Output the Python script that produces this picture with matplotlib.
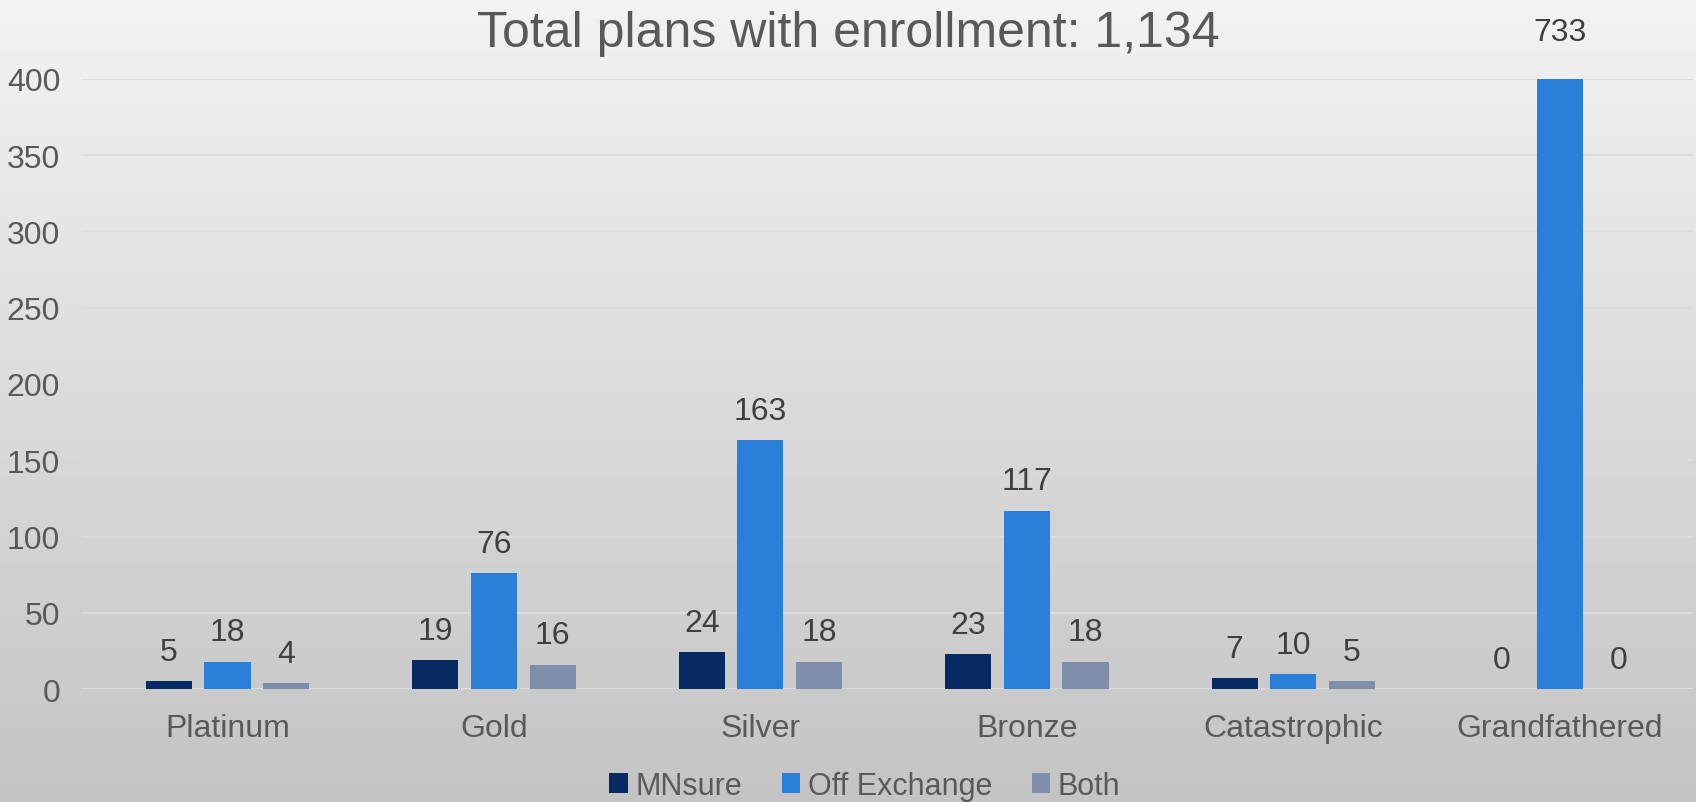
import numpy as np
import matplotlib.pyplot as plt

categories = ['Platinum', 'Gold', 'Silver', 'Bronze', 'Catastrophic', 'Grandfathered']
mnsure = [5, 19, 24, 23, 7, 0]
off_exchange = [18, 76, 163, 117, 10, 733]
both = [4, 16, 18, 18, 5, 0]
series_names = ['MNsure', 'Off Exchange', 'Both']
colors = ['#062a61', '#2a7fd8', '#7f8fab']
title = 'Total plans with enrollment: 1,134'

plt.rcParams['font.family'] = ['Liberation Sans', 'DejaVu Sans']

fig = plt.figure(figsize=(16.96, 8.03), dpi=100)

# grey vertical gradient behind everything
bg = fig.add_axes([0, 0, 1, 1], zorder=0)
grad = np.linspace(0, 1, 256).reshape(-1, 1)
bg.imshow(grad, aspect='auto', cmap=plt.matplotlib.colors.LinearSegmentedColormap.from_list(
    'bg', ['#f3f3f3', '#c4c4c4']), extent=[0, 1, 0, 1])
bg.axis('off')

ax = fig.add_axes([81 / 1696, 0.1407, 1612 / 1696, 0.7597], zorder=1)
ax.patch.set_alpha(0)

ymax = 400
x = np.arange(len(categories))
width = 0.173
step = 0.22
for i, (vals, name, c) in enumerate(zip([mnsure, off_exchange, both], series_names, colors)):
    pos = x + (i - 1) * step
    ax.bar(pos, vals, width, color=c, label=name, zorder=3)
    for p, v in zip(pos, vals):
        top = min(v, ymax)
        off = 21 if v <= ymax else 34
        ax.annotate(str(v), (p, top), xytext=(0, off), textcoords='offset points',
                    ha='center', va='center', fontsize=23, color='#404040',
                    annotation_clip=False)

ax.set_ylim(0, ymax)
ax.set_xlim(-0.55, 5.5)
ax.set_yticks(range(0, 401, 50))
ax.set_xticks(x)
ax.set_xticklabels(categories)
ax.tick_params(axis='both', length=0, labelsize=23, colors='#595959')
ax.tick_params(axis='y', pad=15)
ax.tick_params(axis='x', pad=17)
ax.grid(axis='y', color='#dcdcdc', linewidth=1.5, zorder=0)
for s in ax.spines.values():
    s.set_visible(False)

fig.text(0.5, 0.958, title, ha='center', va='center', fontsize=36, color='#595959')

fig.legend(loc='center', bbox_to_anchor=(0.51, 0.02), ncol=3, frameon=False,
           fontsize=22, labelcolor='#595959', handlelength=0.6, handleheight=0.6,
           handletextpad=0.25, columnspacing=1.3)

fig.savefig('out.png', dpi=100)
